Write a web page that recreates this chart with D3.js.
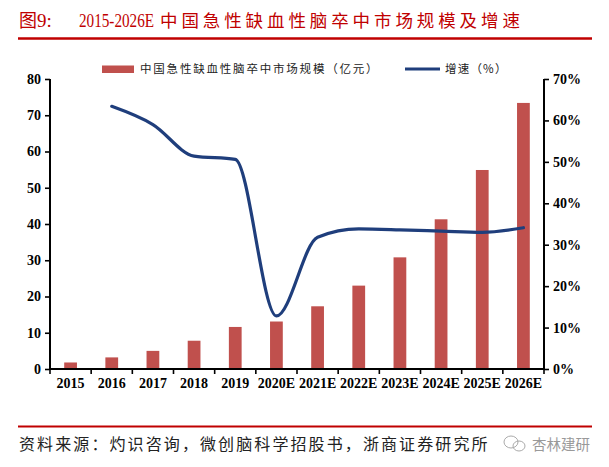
<!DOCTYPE html>
<html><head><meta charset="utf-8">
<script src="https://cdn.jsdelivr.net/npm/d3@7"></script>
<style>
body{margin:0;background:#fff;}
svg{display:block;}
</style></head>
<body>
<svg id="c" width="609" height="467"></svg>
<script>
const categories = ["2015","2016","2017","2018","2019","2020E","2021E","2022E","2023E","2024E","2025E","2026E"];
const marketSize = [1.8,3.2,5.0,7.8,11.6,13.1,17.3,23.0,30.8,41.3,54.9,73.4];
const growthRate = [null,63.4,59.0,51.4,50.6,12.8,31.8,33.8,33.6,33.3,33.0,34.1];
const leftTicks = [0,10,20,30,40,50,60,70,80];
const rightTicks = [0,10,20,30,40,50,60,70];

const svg = d3.select("#c");
const L = 50, R = 544, T = 79, B = 369;
const serif = "'Liberation Serif','Times New Roman',serif";
const cjk = "'Noto Sans CJK SC','Noto Sans',sans-serif";
const red = "#C00000";

// title
svg.append("text").attr("x",19).attr("y",27).attr("fill",red).attr("font-size",18)
  .attr("font-family",cjk).text("图");
svg.append("text").attr("x",37).attr("y",27).attr("fill",red).attr("font-size",19)
  .attr("font-family",serif).text("9:");
svg.append("g").attr("transform","translate(79,27) scale(0.8,1)")
  .append("text").attr("x",0).attr("y",0).attr("fill",red).attr("font-size",19)
  .attr("font-family",serif).text("2015-2026E");
svg.append("text").attr("x",160).attr("y",27).attr("fill",red).attr("font-size",17.5)
  .attr("font-family",cjk).attr("letter-spacing",3.9).text("中国急性缺血性脑卒中市场规模及增速");
svg.append("line").attr("x1",18).attr("x2",592).attr("y1",38.5).attr("y2",38.5)
  .attr("stroke",red).attr("stroke-width",2.4);

const x = d3.scaleBand().domain(categories).range([L,R]).paddingInner(0).paddingOuter(0);
const yL = d3.scaleLinear().domain([0,80]).range([B,T]);
const yR = d3.scaleLinear().domain([0,70]).range([B,T]);
const bw = x.bandwidth()*0.31;

// bars
svg.append("g").selectAll("rect").data(marketSize).join("rect")
  .attr("x",(d,i)=>x(categories[i])+x.bandwidth()/2-bw/2)
  .attr("y",d=>yL(d)).attr("width",bw).attr("height",d=>B-yL(d))
  .attr("fill","#C0504D");

// line
const pts = growthRate.map((v,i)=>({v,c:categories[i]})).filter(d=>d.v!==null);
const line = d3.line().x(d=>x(d.c)+x.bandwidth()/2).y(d=>yR(d.v)).curve(d3.curveMonotoneX);
svg.append("path").datum(pts).attr("d",line).attr("fill","none")
  .attr("stroke","#1F3E7C").attr("stroke-width",3.2).attr("stroke-linecap","round");

// axes
const axL = svg.append("g").attr("transform",`translate(${L},0)`)
  .call(d3.axisLeft(yL).tickValues(leftTicks).tickSize(5).tickPadding(4).tickFormat(d3.format("d")));
const axR = svg.append("g").attr("transform",`translate(${R},0)`)
  .call(d3.axisRight(yR).tickValues(rightTicks).tickSize(5).tickPadding(4).tickFormat(d=>d+"%"));
const axB = svg.append("g").attr("transform",`translate(0,${B})`)
  .call(d3.axisBottom(x).tickSize(0).tickPadding(9));
// boundary ticks on x
svg.append("g").selectAll("line").data(d3.range(categories.length+1)).join("line")
  .attr("x1",i=>L+i*x.bandwidth()).attr("x2",i=>L+i*x.bandwidth())
  .attr("y1",B).attr("y2",B+5).attr("stroke","#000").attr("stroke-width",1.6);

[axL,axR,axB].forEach(a=>{
  a.select(".domain").attr("stroke","#000").attr("stroke-width",2);
  a.selectAll(".tick line").attr("stroke","#000").attr("stroke-width",1.6);
  a.selectAll("text").attr("font-family",serif).attr("font-weight","bold")
    .attr("font-size",14).attr("fill","#000");
});
axL.select(".domain").attr("d",`M-0,${B}V${T}`);
axR.select(".domain").attr("d",`M0,${B}V${T}`);
axB.select(".domain").attr("d",`M${L},0H${R}`);

// legend
svg.append("rect").attr("x",102).attr("y",65.5).attr("width",32).attr("height",7.5).attr("fill","#C0504D");
svg.append("text").attr("x",140).attr("y",73).attr("font-family",cjk).attr("font-size",11.5)
  .attr("letter-spacing",1.8).attr("fill","#222").text("中国急性缺血性脑卒中市场规模（亿元）");
svg.append("line").attr("x1",405).attr("x2",440).attr("y1",69).attr("y2",69)
  .attr("stroke","#1F3E7C").attr("stroke-width",3);
svg.append("text").attr("x",445).attr("y",73).attr("font-family",cjk).attr("font-size",11.5)
  .attr("letter-spacing",1.2).attr("fill","#222").text("增速（%）");

// footer
svg.append("line").attr("x1",18).attr("x2",592).attr("y1",426.5).attr("y2",426.5)
  .attr("stroke",red).attr("stroke-width",2);
svg.append("text").attr("x",19).attr("y",450).attr("font-family",cjk).attr("font-size",16)
  .attr("letter-spacing",2.1).attr("fill","#222").text("资料来源：灼识咨询，微创脑科学招股书，浙商证券研究所");
// watermark
const wm = svg.append("g").attr("fill","none").attr("stroke","#aaa").attr("stroke-width",1);
wm.append("ellipse").attr("cx",511).attr("cy",442).attr("rx",7).attr("ry",6);
wm.append("ellipse").attr("cx",519).attr("cy",446).attr("rx",6).attr("ry",5);
svg.append("text").attr("x",532).attr("y",450).attr("font-family",cjk).attr("font-size",14.5)
  .attr("fill","#999").text("杏林建研");
</script>
</body></html>
